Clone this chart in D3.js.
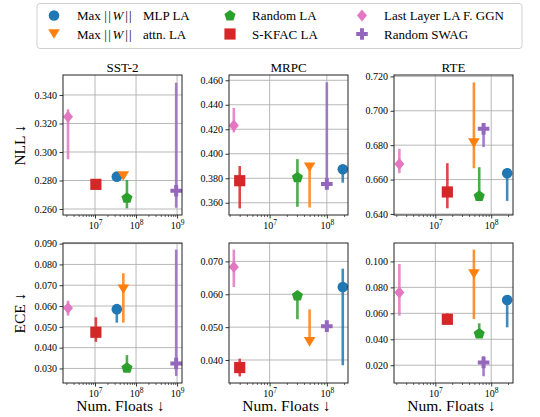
<!DOCTYPE html>
<html>
<head>
<meta charset="utf-8">
<script src="https://cdn.jsdelivr.net/npm/d3@7"></script>
<style>
  body { margin: 0; background: #fff; }
  svg text { font-family: "Liberation Serif", "DejaVu Serif", serif !important; }
</style>
</head>
<body>
<svg id="chart" width="540" height="417"></svg>
<script>
// methods, in legend order (column-major)
const methods = ["MLP", "attn", "random", "kfac", "lastlayer", "swag"];
const colors = ["#1f77b4", "#ff7f0e", "#2ca02c", "#d62728", "#e377c2", "#9467bd"];
const datasets = ["SST-2", "MRPC", "RTE"];

// number of floats per method
const floatsSST2 = [3.4e7, 4.9e7, 6.0e7, 1.05e7, 2.2e6, 9.5e8];
const floatsMRPC = [1.9e8, 5.0e7, 3.06e7, 3.0e6, 2.37e6, 1.0e8];
const floatsRTE  = [1.93e8, 4.9e7, 6.1e7, 1.64e7, 2.27e6, 7.3e7];

// NLL: value, lower, upper
const nllSST2   = [0.2827, 0.2832, 0.2679, 0.2773, 0.3248, 0.2728];
const nllLoSST2 = [0.2815, 0.2820, 0.2605, 0.2765, 0.2949, 0.2609];
const nllHiSST2 = [0.2840, 0.2845, 0.2803, 0.2780, 0.3300, 0.3486];
const nllMRPC   = [0.3874, 0.3890, 0.3808, 0.3780, 0.4231, 0.3753];
const nllLoMRPC = [0.3764, 0.3562, 0.3567, 0.3554, 0.4174, 0.3710];
const nllHiMRPC = [0.3874, 0.3890, 0.3956, 0.3900, 0.4374, 0.4584];
const nllRTE    = [0.6637, 0.6812, 0.6505, 0.6528, 0.6691, 0.6895];
const nllLoRTE  = [0.6476, 0.6666, 0.6505, 0.6433, 0.6637, 0.6789];
const nllHiRTE  = [0.6666, 0.7165, 0.6672, 0.6695, 0.6779, 0.6928];

// ECE: value, lower, upper
const eceSST2   = [0.0585, 0.0681, 0.0303, 0.0474, 0.0590, 0.0324];
const eceLoSST2 = [0.0520, 0.0520, 0.0303, 0.0428, 0.0554, 0.0264];
const eceHiSST2 = [0.0585, 0.0758, 0.0364, 0.0546, 0.0626, 0.0871];
const eceMRPC   = [0.0622, 0.0455, 0.0596, 0.0377, 0.0683, 0.0503];
const eceLoMRPC = [0.0384, 0.0455, 0.0524, 0.0350, 0.0622, 0.0497];
const eceHiMRPC = [0.0678, 0.0554, 0.0596, 0.0404, 0.0736, 0.0509];
const eceRTE    = [0.0703, 0.0903, 0.0445, 0.0554, 0.0760, 0.0221];
const eceLoRTE  = [0.0492, 0.0556, 0.0445, 0.0554, 0.0582, 0.0115];
const eceHiRTE  = [0.0703, 0.1091, 0.0523, 0.0600, 0.0980, 0.0270];

// axis limits and ticks
const xLimits = [[10 ** 6.22, 10 ** 9.12], [10 ** 6.29, 10 ** 8.37], [10 ** 6.26, 10 ** 8.39]];
const nllLimits = [[0.2558, 0.354], [0.350, 0.4643], [0.6394, 0.7208]];
const eceLimits = [[0.0230, 0.0903], [0.033, 0.0756], [0.0063, 0.1142]];
const nllTicks = [
  [0.26, 0.28, 0.30, 0.32, 0.34],
  [0.36, 0.38, 0.40, 0.42, 0.44, 0.46],
  [0.64, 0.66, 0.68, 0.70, 0.72]
];
const eceTicks = [
  [0.03, 0.04, 0.05, 0.06, 0.07, 0.08, 0.09],
  [0.04, 0.05, 0.06, 0.07],
  [0.02, 0.04, 0.06, 0.08, 0.10]
];
const xTicksMajor = [[1e7, 1e8, 1e9], [1e7, 1e8], [1e7, 1e8]];

const floats = [floatsSST2, floatsMRPC, floatsRTE];
const metrics = [
  { name: "NLL", vals: [nllSST2, nllMRPC, nllRTE], lo: [nllLoSST2, nllLoMRPC, nllLoRTE],
    hi: [nllHiSST2, nllHiMRPC, nllHiRTE], lim: nllLimits, ticks: nllTicks },
  { name: "ECE", vals: [eceSST2, eceMRPC, eceRTE], lo: [eceLoSST2, eceLoMRPC, eceLoRTE],
    hi: [eceHiSST2, eceHiMRPC, eceHiRTE], lim: eceLimits, ticks: eceTicks }
];

const svg = d3.select("#chart");
const colX = [63, 229, 394];
const rowY = [75, 243];
const pw = 119, ph = 140;

// marker shapes as path strings centred on 0,0
function markerPath(kind) {
  const s = 10.6;
  if (kind === "MLP") {
    const r = s / 2;
    return `M${r},0A${r},${r} 0 1,1 ${-r},0A${r},${r} 0 1,1 ${r},0Z`;
  }
  if (kind === "attn") {
    const w = 11.6 / 2, h = 9.6 / 2;
    return `M${-w},${-h}L${w},${-h}L0,${h}Z`;
  }
  if (kind === "random") {
    const r = s * 0.55;
    const pts = d3.range(5).map(i => {
      const a = -Math.PI / 2 + i * 2 * Math.PI / 5;
      return [r * Math.cos(a), r * Math.sin(a) + r * 0.05];
    });
    return "M" + pts.map(p => p.join(",")).join("L") + "Z";
  }
  if (kind === "kfac") {
    const h = 11.2 / 2;
    return `M${-h},${-h}H${h}V${h}H${-h}Z`;
  }
  if (kind === "lastlayer") {
    const w = 10 / 2, h = 12 / 2;
    return `M0,${-h}L${w},0L0,${h}L${-w},0Z`;
  }
  // filled plus
  const a = 11.6 / 2, t = 4 / 2;
  return `M${-t},${-a}H${t}V${-t}H${a}V${t}H${t}V${a}H${-t}V${t}H${-a}V${-t}H${-t}Z`;
}

function superTick(sel, d) {
  const e = Math.round(Math.log10(d));
  sel.text("10").append("tspan").attr("dy", "-0.45em").attr("font-size", "7.5px").text(e);
}

metrics.forEach((m, row) => {
  datasets.forEach((ds, col) => {
    const g = svg.append("g").attr("transform", `translate(${colX[col]},${rowY[row]})`);
    const x = d3.scaleLog().domain(xLimits[col]).range([0, pw]);
    const y = d3.scaleLinear().domain(m.lim[col]).range([ph, 0]);

    // grid
    g.append("g").selectAll("line").data(m.ticks[col]).join("line")
      .attr("x1", 0).attr("x2", pw)
      .attr("y1", d => y(d)).attr("y2", d => y(d))
      .attr("stroke", "#b0b0b0").attr("stroke-width", 0.9);
    g.append("g").selectAll("line").data(xTicksMajor[col].filter(d => x(d) < pw - 1)).join("line")
      .attr("x1", d => x(d)).attr("x2", d => x(d))
      .attr("y1", 0).attr("y2", ph)
      .attr("stroke", "#b0b0b0").attr("stroke-width", 0.9);

    // y axis
    const yAxis = d3.axisLeft(y).tickValues(m.ticks[col]).tickFormat(d3.format(".3f"))
      .tickSize(3.5).tickPadding(2.5);
    const ya = g.append("g").call(yAxis);
    ya.select(".domain").remove();
    ya.selectAll("text").attr("font-size", "10px").attr("fill", "#000");
    ya.selectAll("line").attr("stroke", "#000").attr("stroke-width", 0.8);

    // x axis: major + minor
    const [d0, d1] = xLimits[col];
    const minor = [];
    for (let e = 6; e <= 9; e++) {
      for (let k = 2; k <= 9; k++) {
        const v = k * 10 ** e;
        if (v > d0 && v < d1) minor.push(v);
      }
    }
    const xm = g.append("g").attr("transform", `translate(0,${ph})`)
      .call(d3.axisBottom(x).tickValues(minor).tickSize(2).tickFormat(""));
    xm.select(".domain").remove();
    xm.selectAll("line").attr("stroke", "#000").attr("stroke-width", 0.6);
    const xa = g.append("g").attr("transform", `translate(0,${ph})`)
      .call(d3.axisBottom(x).tickValues(xTicksMajor[col]).tickSize(3.5).tickFormat(""));
    xa.select(".domain").remove();
    xa.selectAll("line").attr("stroke", "#000").attr("stroke-width", 0.8);
    xa.selectAll(".tick").append("text")
      .attr("y", 13.5).attr("text-anchor", "middle").attr("font-size", "10px").attr("fill", "#000")
      .each(function (d) { superTick(d3.select(this), d); });

    // points with error bars
    const pts = methods.map((k, i) => ({
      k, c: colors[i], fx: floats[col][i], v: m.vals[col][i], lo: m.lo[col][i], hi: m.hi[col][i]
    }));
    const clip = `clip-${row}-${col}`;
    g.append("clipPath").attr("id", clip).append("rect").attr("width", pw).attr("height", ph);
    const pg = g.append("g").attr("clip-path", `url(#${clip})`);
    pts.forEach(p => {
      pg.append("line")
        .attr("x1", x(p.fx)).attr("x2", x(p.fx))
        .attr("y1", y(p.lo)).attr("y2", y(p.hi))
        .attr("stroke", p.c).attr("stroke-width", 2.6).attr("stroke-opacity", 0.85);
      pg.append("path")
        .attr("d", markerPath(p.k))
        .attr("transform", `translate(${x(p.fx)},${y(p.v)})`)
        .attr("fill", p.c);
    });

    // frame
    g.append("rect").attr("width", pw).attr("height", ph)
      .attr("fill", "none").attr("stroke", "#222").attr("stroke-width", 1);

    if (row === 0) {
      g.append("text").attr("x", pw / 2).attr("y", -3).attr("text-anchor", "middle")
        .attr("font-size", "13px").text(ds);
    } else {
      g.append("text").attr("x", pw / 2 - 2).attr("y", ph + 28).attr("text-anchor", "middle")
        .attr("font-size", "15.5px").text("Num. Floats  \u2193");
    }
    if (col === 0) {
      g.append("text")
        .attr("transform", `translate(${-38},${ph / 2}) rotate(-90)`)
        .attr("text-anchor", "middle").attr("font-size", "15.5px")
        .text(m.name + " \u2193");
    }
  });
});

// legend
const legend = svg.append("g");
legend.append("rect").attr("x", 37).attr("y", 3.5).attr("width", 485).attr("height", 45)
  .attr("rx", 3).attr("fill", "#fff").attr("fill-opacity", 0.8)
  .attr("stroke", "#d0d0d0").attr("stroke-width", 1);
const legX = [54, 230, 362];
const legTX = [77, 252, 384];
const legY = [15.5, 34];
const legLabels = [
  ["Max", "W", "MLP LA"],
  ["Max", "W", "attn. LA"],
  ["Random LA"],
  ["S-KFAC LA"],
  ["Last Layer LA F. GGN"],
  ["Random SWAG"]
];
methods.forEach((k, i) => {
  const c = Math.floor(i / 2), r = i % 2;
  legend.append("path").attr("d", markerPath(k))
    .attr("transform", `translate(${legX[c]},${legY[r]})`).attr("fill", colors[i]);
  const t = legend.append("text").attr("x", legTX[c]).attr("y", legY[r] + 4.5).attr("font-size", "13px");
  const parts = legLabels[i];
  if (parts.length === 1) {
    t.text(parts[0]);
  } else {
    // math-style ||W|| with wider spacing
    t.append("tspan").text(parts[0]);
    t.append("tspan").attr("dx", 3.5).attr("letter-spacing", "1.2px").text("||");
    t.append("tspan").attr("dx", 0.5).attr("font-style", "italic").text(parts[1]);
    t.append("tspan").attr("dx", 2).attr("letter-spacing", "1.2px").text("||");
    t.append("tspan").attr("dx", 10).text(parts[2]);
  }
});
</script>
</body>
</html>
